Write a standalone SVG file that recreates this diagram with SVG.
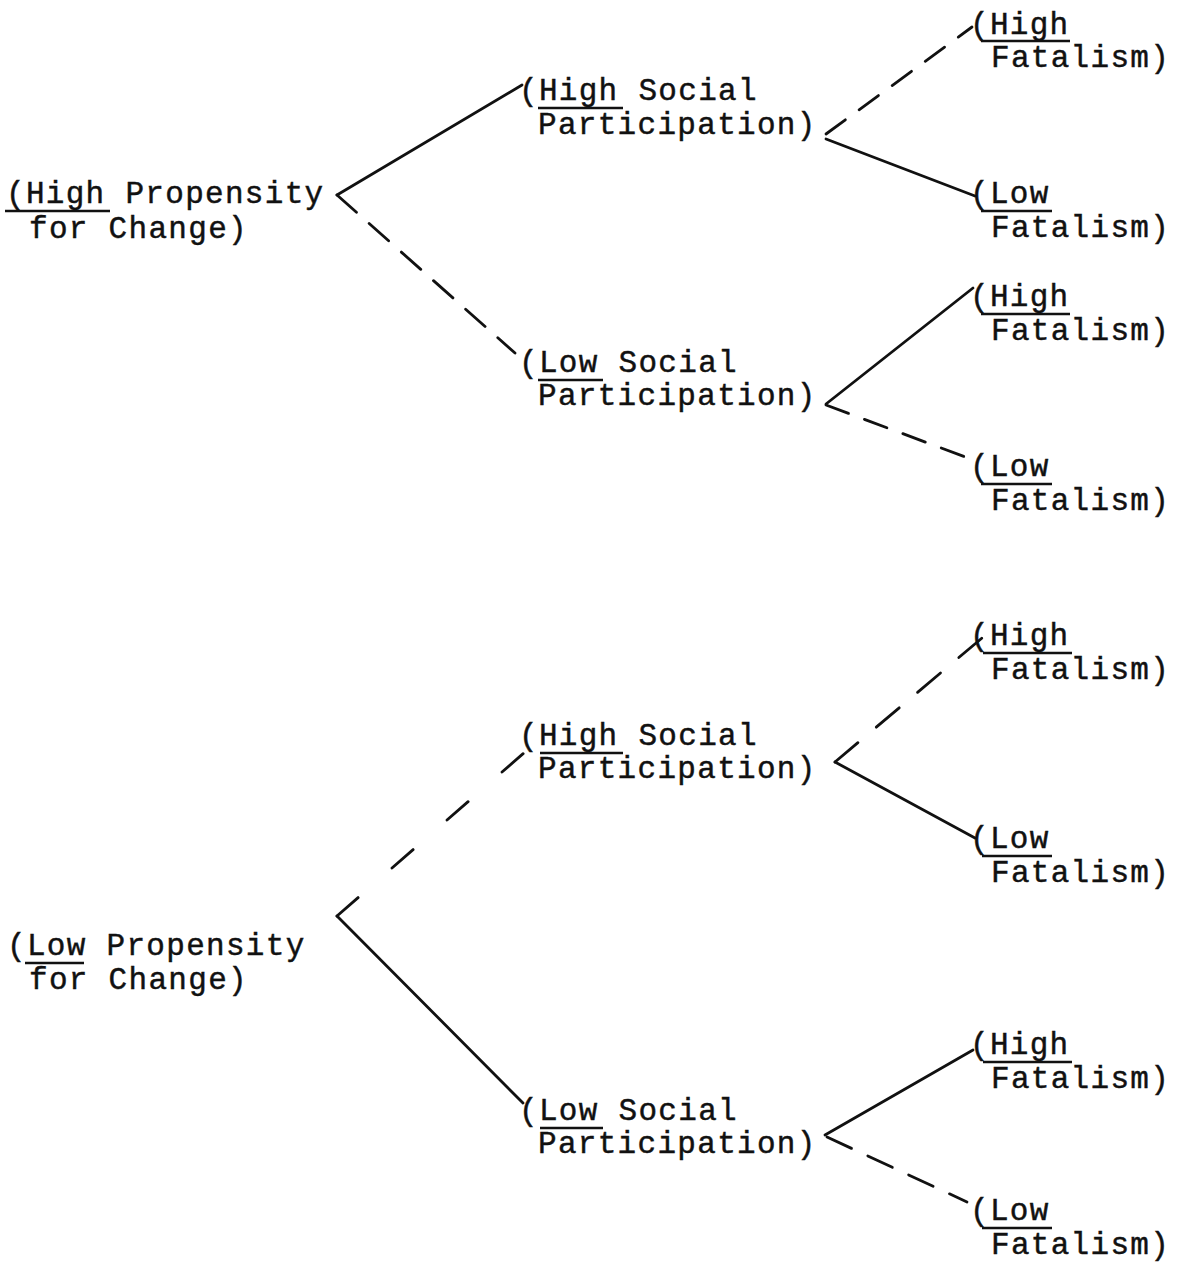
<svg xmlns="http://www.w3.org/2000/svg" width="1177" height="1263" viewBox="0 0 1177 1263">
<style>
text{font-family:"Liberation Mono","Courier New",monospace;font-size:31px;letter-spacing:1.3px;fill:#111;stroke:#111;stroke-width:0.45}
.ul{stroke:#111;stroke-width:2.4}
.c{stroke:#111;stroke-width:2.8;fill:none;stroke-linecap:round}
</style>
<rect width="1177" height="1263" fill="#fff"/>
<g id="connectors">
<line class="c" x1="337" y1="195" x2="522" y2="85"/>
<line class="c" x1="337" y1="195" x2="515" y2="353" stroke-dasharray="26 17"/>
<line class="c" x1="826" y1="134" x2="972" y2="27" stroke-dasharray="24 17"/>
<line class="c" x1="826" y1="139" x2="975" y2="196"/>
<line class="c" x1="826" y1="404" x2="973" y2="288"/>
<line class="c" x1="826" y1="405" x2="968" y2="458" stroke-dasharray="24 17"/>
<line class="c" x1="337" y1="916" x2="525" y2="752" stroke-dasharray="28 45"/>
<line class="c" x1="337" y1="916" x2="523" y2="1103"/>
<line class="c" x1="835" y1="762" x2="982" y2="638" stroke-dasharray="30 24"/>
<line class="c" x1="835" y1="762" x2="975" y2="838"/>
<line class="c" x1="825" y1="1135" x2="973" y2="1050"/>
<line class="c" x1="827" y1="1137" x2="967" y2="1202" stroke-dasharray="27 18"/>
</g>
<g id="high-propensity">
<text x="6" y="203">(High Propensity</text>
<text x="29" y="238">for Change)</text>
<line class="ul" x1="5" y1="211" x2="110" y2="211"/>
</g>
<g id="low-propensity">
<text x="7" y="955">(Low Propensity</text>
<text x="29" y="989">for Change)</text>
<line class="ul" x1="25" y1="963" x2="84" y2="963"/>
</g>
<g id="high-social-1">
<text x="519" y="100">(High Social</text>
<text x="538" y="134">Participation)</text>
<line class="ul" x1="538" y1="108" x2="623" y2="108"/>
</g>
<g id="low-social-1">
<text x="519" y="372">(Low Social</text>
<text x="538" y="405">Participation)</text>
<line class="ul" x1="538" y1="380" x2="603" y2="380"/>
</g>
<g id="high-social-2">
<text x="519" y="745">(High Social</text>
<text x="538" y="778">Participation)</text>
<line class="ul" x1="540" y1="753" x2="623" y2="753"/>
</g>
<g id="low-social-2">
<text x="519" y="1120">(Low Social</text>
<text x="538" y="1153">Participation)</text>
<line class="ul" x1="540" y1="1128" x2="603" y2="1128"/>
</g>
<g id="fatalism-1">
<text x="970" y="34">(High</text>
<text x="991" y="67">Fatalism)</text>
<line class="ul" x1="981" y1="41" x2="1070" y2="41"/>
</g>
<g id="fatalism-2">
<text x="970" y="203">(Low</text>
<text x="991" y="237">Fatalism)</text>
<line class="ul" x1="981" y1="211" x2="1052" y2="211"/>
</g>
<g id="fatalism-3">
<text x="970" y="306">(High</text>
<text x="991" y="340">Fatalism)</text>
<line class="ul" x1="981" y1="314" x2="1070" y2="314"/>
</g>
<g id="fatalism-4">
<text x="970" y="476">(Low</text>
<text x="991" y="510">Fatalism)</text>
<line class="ul" x1="981" y1="484" x2="1052" y2="484"/>
</g>
<g id="fatalism-5">
<text x="970" y="645">(High</text>
<text x="991" y="679">Fatalism)</text>
<line class="ul" x1="983" y1="653" x2="1072" y2="653"/>
</g>
<g id="fatalism-6">
<text x="970" y="848">(Low</text>
<text x="991" y="882">Fatalism)</text>
<line class="ul" x1="982" y1="856" x2="1052" y2="856"/>
</g>
<g id="fatalism-7">
<text x="970" y="1054">(High</text>
<text x="991" y="1088">Fatalism)</text>
<line class="ul" x1="983" y1="1062" x2="1072" y2="1062"/>
</g>
<g id="fatalism-8">
<text x="970" y="1220">(Low</text>
<text x="991" y="1254">Fatalism)</text>
<line class="ul" x1="982" y1="1228" x2="1052" y2="1228"/>
</g>
</svg>
